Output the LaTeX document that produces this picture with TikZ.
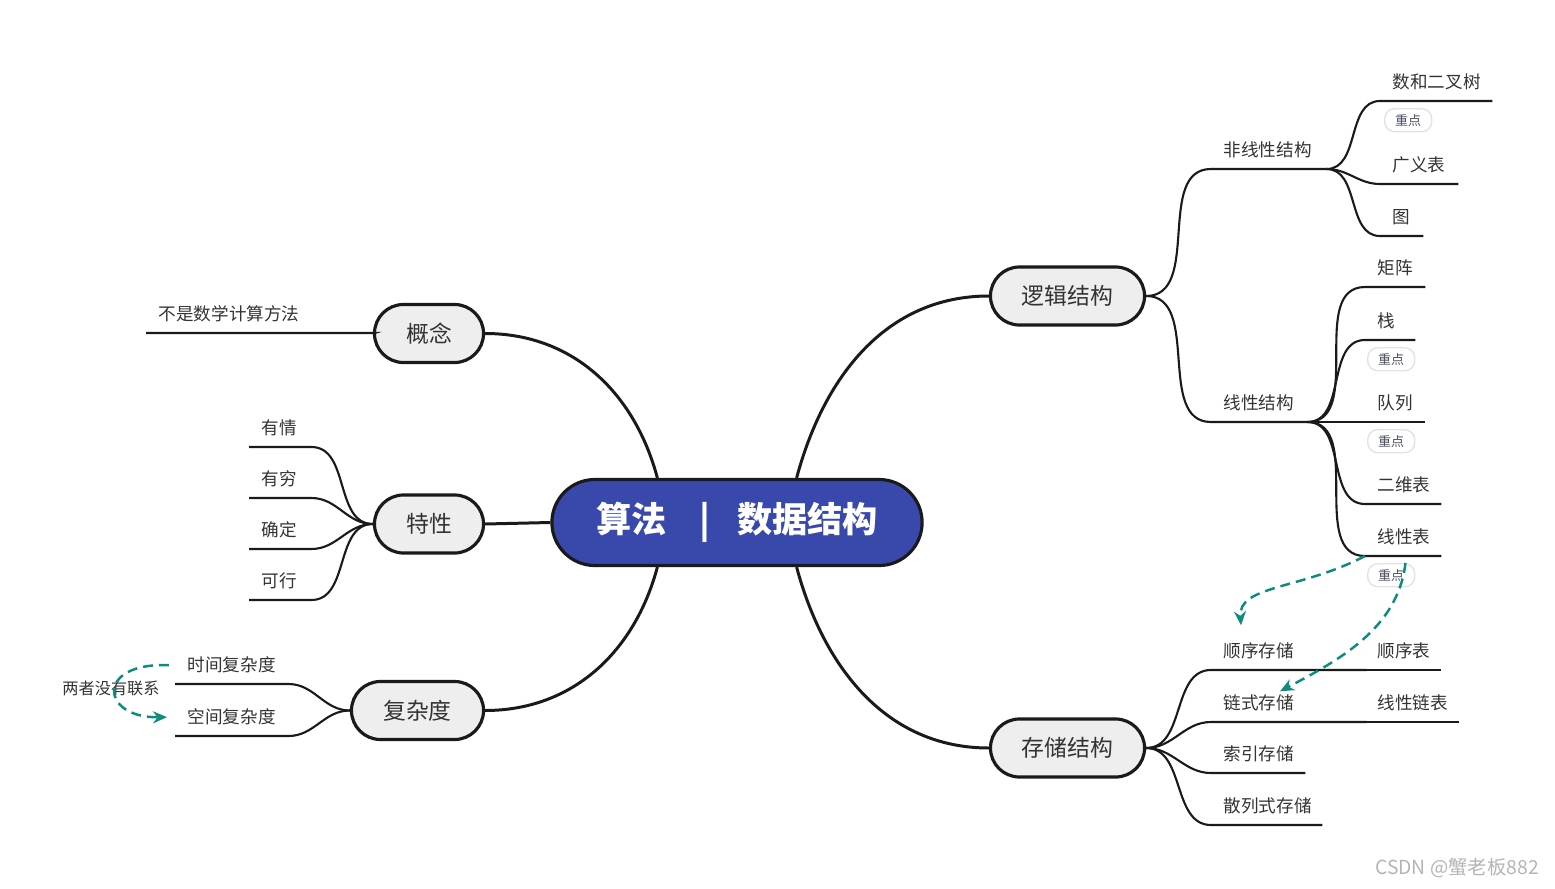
\documentclass[tikz,border=0pt]{standalone}
\usepackage{fontspec}
\setmainfont{Noto Sans CJK SC}
\usepackage{tikz}
\usetikzlibrary{positioning,arrows.meta}
\definecolor{MMBlue}{HTML}{3949AB}
\definecolor{MMFill}{HTML}{EEEEEE}
\definecolor{MMLine}{HTML}{1A1A1A}
\definecolor{MMText}{HTML}{333333}
\definecolor{MMTeal}{HTML}{0B8C7D}
\definecolor{MMTagLine}{HTML}{E2E2E2}
\definecolor{MMTagText}{HTML}{4A5060}
\definecolor{MMMark}{HTML}{B4B4B4}

\tikzset{
  hub/.style={draw=MMLine, line width=0.9pt, fill=MMBlue, rounded corners=0.43cm,
    minimum width=3.70cm, minimum height=0.86cm, text=white,
    font=\fontsize{10pt}{12pt}\selectfont\bfseries},
  topic/.style={draw=MMLine, line width=0.9pt, fill=MMFill, rounded corners=0.29cm,
    minimum height=0.58cm, text=MMText, font=\fontsize{6.5pt}{8pt}\selectfont},
  leaf/.style={anchor=south west, text width=#1, align=left, inner xsep=0.12cm,
    inner ysep=0.1cm, text=MMText, font=\fontsize{5pt}{6pt}\selectfont},
  keytag/.style={draw=MMTagLine, fill=white, rounded corners=0.1cm, text=MMTagText,
    minimum width=0.47cm, minimum height=0.23cm, inner sep=0.02cm,
    font=\fontsize{3.7pt}{4pt}\selectfont},
  limb/.style={MMLine, line width=0.85pt},
  twig/.style={MMLine, line width=0.6pt},
  rt/.style={out=0,in=180},
  lt/.style={out=180,in=0},
  hint/.style={MMTeal, line width=0.7pt, dash pattern=on 0.1cm off 0.06cm,
    -{Stealth[length=0.14cm,width=0.12cm]}},
}

\begin{document}
\begin{tikzpicture}[x=0.01cm,y=-0.01cm]
\path[use as bounding box] (0,0) rectangle (1555,888);

\node[hub] (ct) at (737,522.5) {算法\hspace{0.33cm}|\hspace{0.27cm}数据结构};

\node[topic, minimum width=1.09cm] (gn) at (429,333.5) {概念};
\node[topic, minimum width=1.09cm] (tx) at (429,524) {特性};
\node[topic, minimum width=1.32cm] (fz) at (417.5,710.5) {复杂度};
\node[topic, minimum width=1.54cm] (lj) at (1067.5,296) {逻辑结构};
\node[topic, minimum width=1.54cm] (cc) at (1067.5,748) {存储结构};

\node[leaf=2.03cm] (bs) at (146,333) {不是数学计算方法};
\node[leaf=0.37cm] (yq) at (249,447) {有情};
\node[leaf=0.37cm] (yqi) at (249,498) {有穷};
\node[leaf=0.37cm] (qd) at (249,549) {确定};
\node[leaf=0.37cm] (kx) at (249,600) {可行};
\node[leaf=0.88cm] (sj) at (175,684) {时间复杂度};
\node[leaf=0.88cm] (kj) at (175,736) {空间复杂度};
\node[text=MMText, font=\fontsize{4.6pt}{5pt}\selectfont] (wl) at (111,688) {两者没有联系};

\node[leaf=0.90cm] (fx) at (1211,169) {非线性结构};
\node[leaf=0.71cm] (xx) at (1211,422) {线性结构};
\node[leaf=0.87cm] (ecs) at (1380,101) {数和二叉树};
\node[leaf=0.53cm] (gy) at (1380,184) {广义表};
\node[leaf=0.18cm] (tu) at (1380,236) {图};
\node[leaf=0.35cm] (jz) at (1365,287) {矩阵};
\node[leaf=0.25cm] (zh) at (1365,340) {栈};
\node[leaf=0.35cm] (dl) at (1365,422) {队列};
\node[leaf=0.51cm] (ew) at (1365,504) {二维表};
\node[leaf=0.51cm] (xb) at (1365,556) {线性表};
\node[keytag, below right=0.07cm and 0.04cm of ecs.south west] (t1) {重点};
\node[keytag, below right=0.07cm and 0.02cm of zh.south west] (t2) {重点};
\node[keytag, below right=0.07cm and 0.02cm of dl.south west] (t3) {重点};
\node[keytag, below right=0.07cm and 0.02cm of xb.south west] (t4) {重点};

\node[leaf=1.30cm] (sx) at (1211,670) {顺序存储};
\node[leaf=0.51cm] (sxb) at (1365,670) {顺序表};
\node[leaf=1.30cm] (ls) at (1211,722) {链式存储};
\node[leaf=0.69cm] (lsb) at (1365,722) {线性链表};
\node[leaf=0.69cm] (sy) at (1211,773) {索引存储};
\node[leaf=0.86cm] (sl) at (1211,825) {散列式存储};

\node[text=MMMark, font=\fontsize{5.5pt}{6pt}\selectfont] (wm) at (1457,868) {CSDN @蟹老板882};

\draw[limb] ([xshift=1.07cm]ct.north west) to[out=105,in=0] (gn.east);
\draw[limb] (ct.west) -- (tx.east);
\draw[limb] ([xshift=1.07cm]ct.south west) to[out=-105,in=0] (fz.east);
\draw[limb] ([xshift=-1.27cm]ct.north east) to[out=75,in=180] (lj.west);
\draw[limb] ([xshift=-1.27cm]ct.south east) to[out=-75,in=180] (cc.west);

\draw[twig] (gn.west) -- (bs.south east) -- (bs.south west);
\foreach \n in {yq,yqi,qd,kx}
  \draw[twig] (tx.west) to[lt] (\n.south east) -- (\n.south west);
\foreach \n in {sj,kj}
  \draw[twig] (fz.west) to[lt] (\n.south east) -- (\n.south west);
\foreach \n in {fx,xx}
  \draw[twig] (lj.east) to[rt] (\n.south west) -- (\n.south east);
\foreach \n in {ecs,gy,tu}
  \draw[twig] (fx.south east) to[rt] (\n.south west) -- (\n.south east);
\foreach \n in {jz,zh,dl,ew,xb}
  \draw[twig] (xx.south east) to[rt] (\n.south west) -- (\n.south east);
\foreach \n in {sx,ls,sy,sl}
  \draw[twig] (cc.east) to[rt] (\n.south west) -- (\n.south east);
\draw[twig] (sx.south east) -- (sxb.south west) -- (sxb.south east);
\draw[twig] (ls.south east) -- (lsb.south west) -- (lsb.south east);

\draw[hint] (xb.south west) .. controls (1300,590) and (1238,585) .. ([xshift=0.30cm,yshift=0.07cm]sx.north west);
\draw[hint] ([xshift=-0.1cm]t4.north east) .. controls (1398,630) and (1335,662) .. ([xshift=0.69cm,yshift=-0.07cm]ls.north west);
\draw[hint] ([xshift=-0.06cm]sj.west) .. controls (95,662) and (100,718) .. ([xshift=-0.08cm]kj.west);
\end{tikzpicture}
\end{document}
